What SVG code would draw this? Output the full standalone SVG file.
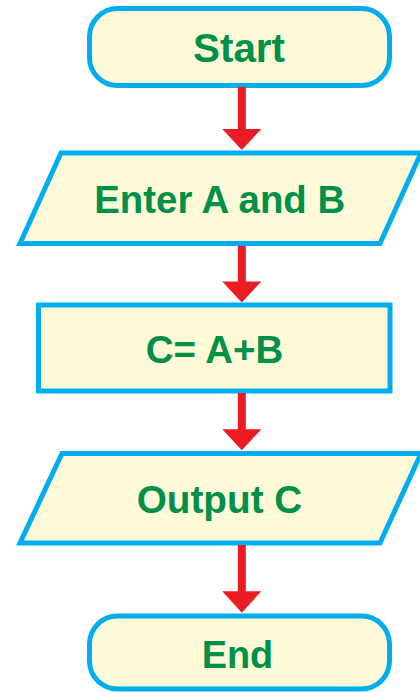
<svg xmlns="http://www.w3.org/2000/svg" width="420" height="692" viewBox="0 0 420 692">
  <style>
    .shape { fill: #FEF9D6; stroke: #00AEEF; stroke-width: 5; stroke-linejoin: miter; }
    .label { fill: #00904A; font-family: "Liberation Sans", Arial, sans-serif; font-weight: bold; text-anchor: middle; }
    .shaft { stroke: #ED1C24; stroke-width: 8; fill: none; }
    .head { fill: #ED1C24; }
  </style>
  <rect width="420" height="692" fill="#FFFFFF"/>

  <g id="start">
    <rect class="shape" x="89.5" y="8.5" width="300" height="77" rx="28" ry="28"/>
    <text class="label" x="239" y="62" font-size="41" textLength="92" lengthAdjust="spacingAndGlyphs">Start</text>
  </g>

  <g id="input">
    <polygon class="shape" points="61,153 421,153 380,243.5 20,243.5"/>
    <text class="label" x="219.7" y="212.7" font-size="39" textLength="251" lengthAdjust="spacingAndGlyphs">Enter A and B</text>
  </g>

  <g id="process">
    <rect class="shape" x="38.5" y="305" width="351.5" height="86"/>
    <text class="label" x="214.5" y="363.3" font-size="38" textLength="137.6" lengthAdjust="spacingAndGlyphs">C= A+B</text>
  </g>

  <g id="output">
    <polygon class="shape" points="62,453.5 421,453.5 380,543 20,543"/>
    <text class="label" x="219.5" y="513.3" font-size="39" textLength="165.6" lengthAdjust="spacingAndGlyphs">Output C</text>
  </g>

  <g id="end">
    <rect class="shape" x="89.5" y="616" width="300" height="73" rx="28" ry="28"/>
    <text class="label" x="237.5" y="668.3" font-size="38" textLength="71.6" lengthAdjust="spacingAndGlyphs">End</text>
  </g>

  <g id="connectors">
    <line class="shaft" x1="241.8" y1="87" x2="241.8" y2="130"/>
    <polygon class="head" points="222.3,129 261.3,129 241.8,150"/>

    <line class="shaft" x1="241.8" y1="246" x2="241.8" y2="282"/>
    <polygon class="head" points="222.3,281.5 261.3,281.5 241.8,302.5"/>

    <line class="shaft" x1="241.8" y1="393" x2="241.8" y2="430"/>
    <polygon class="head" points="222.3,429.3 261.3,429.3 241.8,450.3"/>

    <line class="shaft" x1="241.8" y1="545" x2="241.8" y2="592"/>
    <polygon class="head" points="222.3,591.3 261.3,591.3 241.8,612.8"/>
  </g>
</svg>
